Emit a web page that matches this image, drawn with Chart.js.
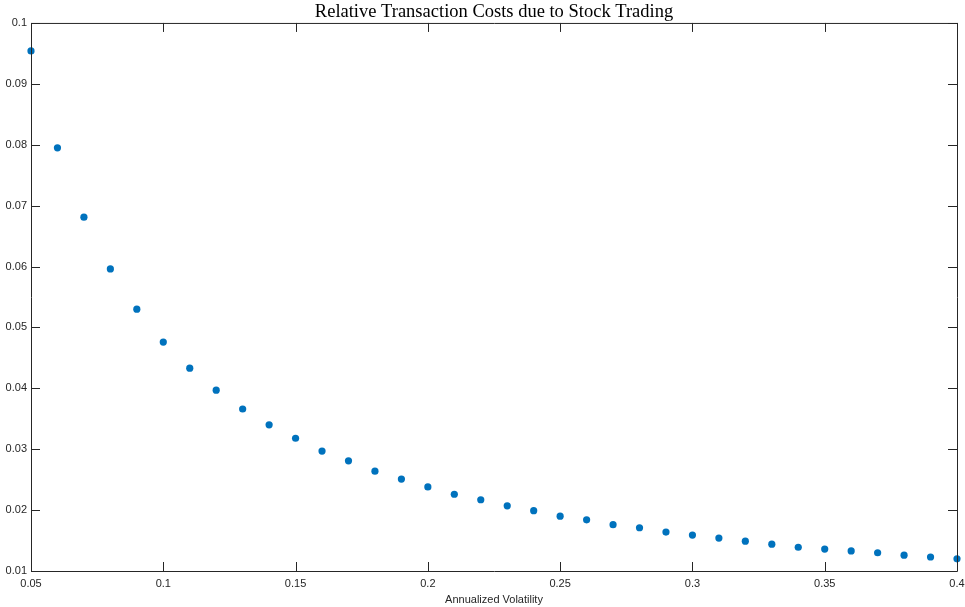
<!DOCTYPE html>
<html>
<head>
<meta charset="utf-8">
<script src="https://cdn.jsdelivr.net/npm/chart.js@4"></script>
<style>
html,body{margin:0;padding:0;background:#fff;}
#wrap{width:965px;height:607px;}
</style>
</head>
<body>
<div id="wrap"><canvas id="c" width="965" height="607"></canvas></div>
<script>
const volatility = [0.05,0.06,0.07,0.08,0.09,0.10,0.11,0.12,0.13,0.14,0.15,0.16,0.17,0.18,0.19,0.20,0.21,0.22,0.23,0.24,0.25,0.26,0.27,0.28,0.29,0.30,0.31,0.32,0.33,0.34,0.35,0.36,0.37,0.38,0.39,0.40];
const relCost = [0.0954,0.0795,0.0681,0.0596,0.0530,0.0476,0.0433,0.0397,0.0366,0.0340,0.0318,0.0297,0.0281,0.0264,0.0251,0.0238,0.0226,0.0217,0.0207,0.0199,0.0190,0.0184,0.0176,0.0171,0.0164,0.0159,0.0154,0.0149,0.0144,0.0139,0.0136,0.0133,0.0130,0.0126,0.0123,0.0120];
const xTicks = [0.05,0.1,0.15,0.2,0.25,0.3,0.35,0.4];
const yTicks = [0.01,0.02,0.03,0.04,0.05,0.06,0.07,0.08,0.09,0.1];
const titleText = 'Relative Transaction Costs due to Stock Trading';
const xLabel = 'Annualized Volatility';

const fmt = v => String(+Number(v).toFixed(4));

const boxPlugin = {
  id: 'box',
  afterDatasetsDraw(chart) {
    const {ctx, chartArea: a, scales} = chart;
    ctx.save();
    ctx.strokeStyle = '#262626';
    ctx.lineWidth = 1;
    ctx.beginPath();
    ctx.rect(a.left + 0.5, a.top + 0.5, a.right - a.left, a.bottom - a.top);
    ctx.stroke();
    const L = 9;
    ctx.beginPath();
    xTicks.forEach(t => {
      const px = Math.round(scales.x.getPixelForValue(t)) + 0.5;
      ctx.moveTo(px, a.bottom); ctx.lineTo(px, a.bottom - L);
      ctx.moveTo(px, a.top); ctx.lineTo(px, a.top + L);
    });
    yTicks.forEach(t => {
      const py = Math.round(scales.y.getPixelForValue(t)) + 0.5;
      ctx.moveTo(a.left, py); ctx.lineTo(a.left + L, py);
      ctx.moveTo(a.right, py); ctx.lineTo(a.right - L, py);
    });
    ctx.stroke();
    ctx.restore();
  }
};

new Chart(document.getElementById('c'), {
  type: 'scatter',
  data: {
    datasets: [{
      data: volatility.map((x, i) => ({x: x, y: relCost[i]})),
      backgroundColor: '#0072BD',
      borderColor: '#0072BD',
      pointRadius: 3.6,
      pointHoverRadius: 3.6,
      borderWidth: 0,
      clip: false
    }]
  },
  options: {
    responsive: false,
    animation: false,
    events: [],
    layout: {padding: {top: 0, right: 8, left: 0, bottom: 0}},
    plugins: {
      legend: {display: false},
      tooltip: {enabled: false},
      title: {
        display: true,
        text: titleText,
        fullSize: false,
        color: '#000',
        font: {family: '"Liberation Serif", "DejaVu Serif", serif', size: 18.5, weight: 'normal', lineHeight: 1.1},
        padding: {top: 2, bottom: 0.6}
      }
    },
    scales: {
      x: {
        type: 'linear',
        min: 0.05, max: 0.4,
        afterFit(s) { s.height = 36; s.paddingLeft = 0; s.paddingRight = 0; },
        afterBuildTicks(s) { s.ticks = xTicks.map(v => ({value: v})); },
        grid: {display: false, drawTicks: false},
        border: {display: false},
        ticks: {
          callback: fmt, color: '#262626', padding: 6, maxRotation: 0, autoSkip: false,
          font: {family: '"Liberation Sans", Arial, sans-serif', size: 11}
        },
        title: {
          display: true, text: xLabel, color: '#262626', padding: {top: 2, bottom: 0},
          font: {family: '"Liberation Sans", Arial, sans-serif', size: 11}
        }
      },
      y: {
        type: 'linear',
        min: 0.01, max: 0.1,
        afterFit(s) { s.width = 31; s.paddingTop = 0; s.paddingBottom = 0; },
        afterBuildTicks(s) { s.ticks = yTicks.map(v => ({value: v})); },
        grid: {display: false, drawTicks: false},
        border: {display: false},
        ticks: {
          callback: fmt, color: '#262626', padding: 4, autoSkip: false,
          font: {family: '"Liberation Sans", Arial, sans-serif', size: 11}
        }
      }
    }
  },
  plugins: [boxPlugin]
});
</script>
</body>
</html>
